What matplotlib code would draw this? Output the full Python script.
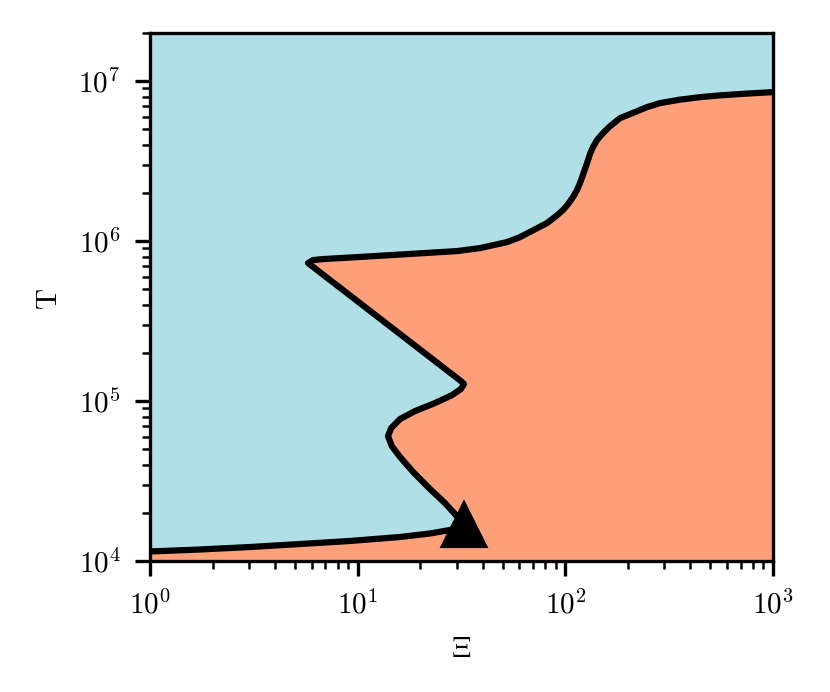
import numpy as np
import matplotlib
matplotlib.use('Agg')
from matplotlib import pyplot as plt

plt.rcParams['font.family'] = 'serif'
plt.rcParams['font.serif'] = ['cmr10']
plt.rcParams['mathtext.fontset'] = 'cm'
plt.rcParams['axes.formatter.use_mathtext'] = True

# equilibrium curve, Xi vs T
xi = [1.0, 1.74, 3.03, 5.28, 9.19, 16.0, 22.3, 27.8, 30.8, 31.8,
      29.4, 26.3, 22.3, 18.5, 16.0, 14.6, 14.0, 14.5, 16.0, 18.9,
      23.6, 28.5, 31.4, 32.5, 31.4,
      5.77, 6.09, 6.81, 9.93, 17.3, 30.1, 38.8, 52.4, 60.5, 81.6,
      90.2, 97.4, 103.0, 108.9, 113.8, 117.7, 127.2, 131.4, 135.9, 142.0,
      151.8, 164.1, 183.4, 204.8, 247.3, 285.6, 356.5, 445.0, 555.6, 749.0,
      1000.0]
temp = [1.147e4, 1.18e4, 1.223e4, 1.277e4, 1.334e4, 1.413e4, 1.486e4, 1.562e4, 1.632e4, 1.728e4,
        1.967e4, 2.305e4, 2.818e4, 3.6e4, 4.467e4, 5.23e4, 6.04e4, 6.78e4, 7.72e4, 8.66e4,
        9.72e4, 1.09e5, 1.189e5, 1.277e5, 1.334e5,
        7.29e5, 7.61e5, 7.72e5, 7.94e5, 8.29e5, 8.66e5, 9.04e5, 9.86e5, 1.059e6, 1.296e6,
        1.433e6, 1.562e6, 1.703e6, 1.884e6, 2.084e6, 2.305e6, 3.07e6, 3.5e6, 3.87e6, 4.28e6,
        4.73e6, 5.23e6, 5.87e6, 6.22e6, 6.88e6, 7.29e6, 7.66e6, 7.94e6, 8.15e6, 8.36e6,
        8.54e6]

# marked point
xi_pt = 32.5
t_pt = 1.68e4

fig = plt.figure(figsize=(830/300, 692/300), dpi=300)
ax = fig.add_axes([150/830, 1-561/692, 623/830, 528/692])

ax.set_xscale('log')
ax.set_yscale('log')
ax.set_facecolor('#b0e0e6')

# salmon region below/right of the curve
px = xi + [1000.0, 1.0]
py = temp + [1e3, 1e3]
ax.fill(px, py, color='#ffa07a', lw=0)

ax.plot(xi, temp, color='k', lw=1.5, solid_joinstyle='round')
ax.plot(xi_pt, t_pt, '^', color='k', ms=10)

ax.set_xlim(1, 1000)
ax.set_ylim(1e4, 2e7)
ax.set_xlabel(r'$\Xi$', fontsize=7)
ax.set_ylabel('T', fontsize=7)
ax.tick_params(labelsize=7)

fig.savefig('out.png', dpi=300)
